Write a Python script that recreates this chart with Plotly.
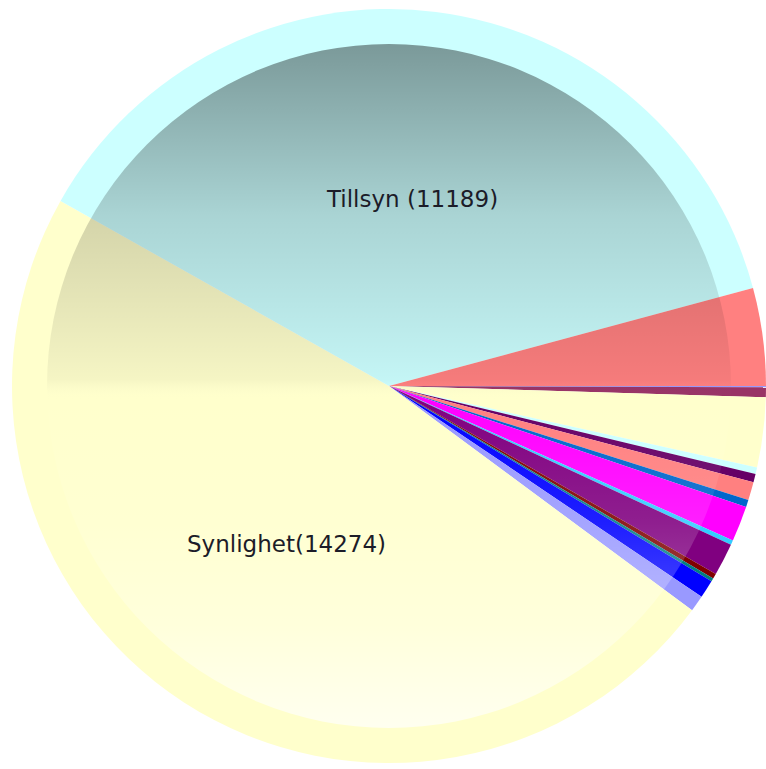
import base64
import math
import plotly.graph_objects as go

# ---- data (clockwise from 3 o'clock) ----
categories = [
    "Övrigt 1", "Övrigt 2", "Övrigt 3", "Övrigt 4", "Övrigt 5", "Övrigt 6",
    "Övrigt 7", "Övrigt 8", "Övrigt 9", "Övrigt 10", "Övrigt 11", "Övrigt 12",
    "Övrigt 13", "Övrigt 14", "Synlighet", "Tillsyn", "Övrigt 15",
]
values = [17, 124, 891, 83, 107, 231, 91, 454, 58, 413, 66, 41, 231, 206,
          14274, 11189, 1245]
label_texts = {"Synlighet": "Synlighet(14274)", "Tillsyn": "Tillsyn (11189)"}
colors = ["#9999FF", "#993366", "#FFFFCC", "#CCFFFF", "#660066", "#FF8080",
          "#0066CC", "#FF00FF", "#33CCFF", "#800080", "#800000", "#008080",
          "#0000FF", "#9999FF", "#FFFFCC", "#CCFFFF", "#FF8080"]

W, H = 766, 769
# on-screen pie geometry (body margin removed below)
left_px, right_px = 12, 766
cx = (left_px + right_px) / 2
r = (right_px - left_px) / 2
cy = 386
top_px, bottom_px = cy - r, cy + r
r_in = r - 35
ROT = 90

fig = go.Figure()
fig.add_trace(go.Pie(
    labels=categories, values=values, sort=False, direction="clockwise",
    rotation=ROT, marker=dict(colors=colors, line=dict(width=0)),
    textinfo="none", hoverinfo="label+value", showlegend=False,
    domain=dict(x=[left_px / W, right_px / W],
                y=[1 - bottom_px / H, 1 - top_px / H]),
))

# gradient overlay on the inner disc (SVG image, drawn above the pie)
svg = f'''<svg xmlns="http://www.w3.org/2000/svg" width="{W}" height="{H}" viewBox="0 0 {W} {H}">
<defs><linearGradient id="g" x1="0" y1="0" x2="0" y2="1">
<stop offset="0" stop-color="#000" stop-opacity="0.40"/>
<stop offset="0.25" stop-color="#000" stop-opacity="0.17"/>
<stop offset="0.49" stop-color="#000" stop-opacity="0.04"/>
<stop offset="0.52" stop-color="#fff" stop-opacity="0"/>
<stop offset="0.70" stop-color="#fff" stop-opacity="0.12"/>
<stop offset="0.85" stop-color="#fff" stop-opacity="0.30"/>
<stop offset="1" stop-color="#fff" stop-opacity="0.70"/>
</linearGradient></defs>
<circle cx="{cx}" cy="{cy}" r="{r_in}" fill="url(#g)"/>
</svg>'''
src = "data:image/svg+xml;base64," + base64.b64encode(svg.encode()).decode()
fig.add_layout_image(dict(source=src, xref="paper", yref="paper", x=0, y=1,
                          sizex=1, sizey=1, xanchor="left", yanchor="top",
                          sizing="stretch", layer="above"))

# labels for the large slices, placed at half radius on the slice mid-angle
total = sum(values)
cum = 0
for cat, v in zip(categories, values):
    if cat in label_texts:
        mid = math.radians(ROT + 360 * (cum + v / 2) / total)
        x = cx + 0.5 * r * math.sin(mid)
        y = cy - 0.5 * r * math.cos(mid)
        fig.add_annotation(x=x / W, y=1 - y / H, xref="paper", yref="paper",
                           xanchor="center", yanchor="middle",
                           text=label_texts[cat], showarrow=False,
                           font=dict(family="DejaVu Sans", size=23, color="#1c1c28"))
    cum += v

fig.update_layout(width=W, height=H, margin=dict(l=0, r=0, t=0, b=0),
                  paper_bgcolor="white", plot_bgcolor="white")
fig.write_html("out.html",
               config={"displayModeBar": False},
               post_script="document.body.style.margin='0px';"
                           "document.body.style.overflow='hidden';")
